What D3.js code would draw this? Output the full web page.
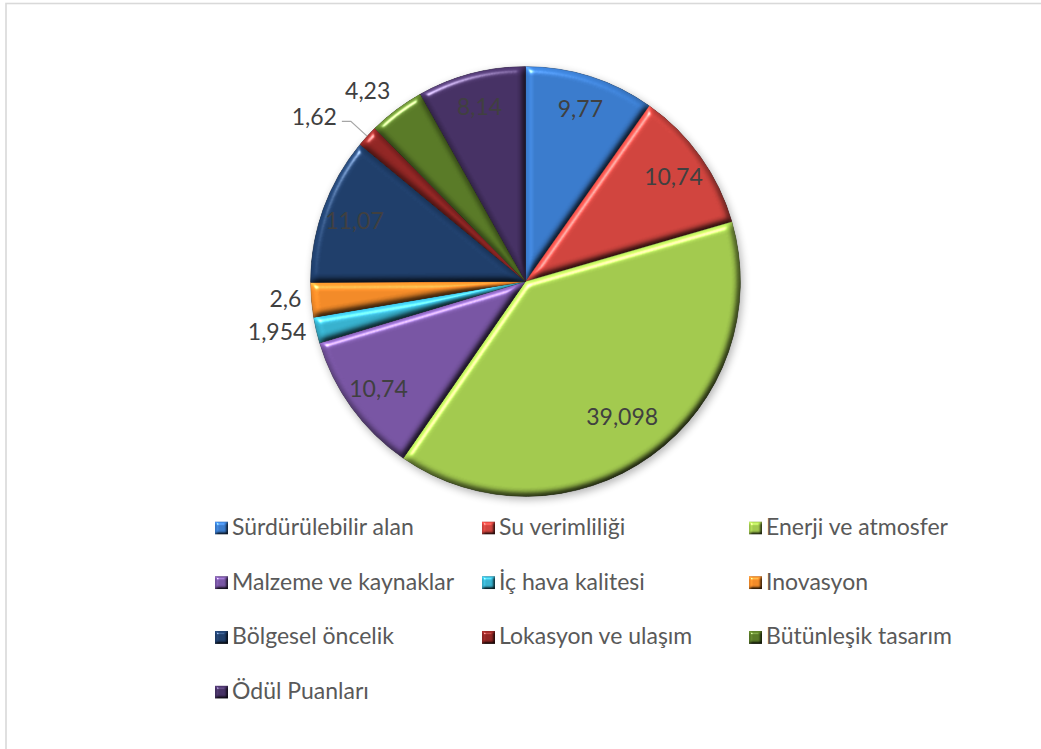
<!DOCTYPE html>
<html>
<head>
<meta charset="utf-8">
<script src="https://cdn.jsdelivr.net/npm/d3@7"></script>
<style>
  html, body { margin: 0; padding: 0; background: #fff; }
  svg { display: block; }
</style>
</head>
<body>
<svg id="chart" width="1041" height="749"></svg>
<script>
// LEED credit categories and their point shares
const categories = [
  "Sürdürülebilir alan", "Su verimliliği", "Enerji ve atmosfer",
  "Malzeme ve kaynaklar", "İç hava kalitesi", "Inovasyon",
  "Bölgesel öncelik", "Lokasyon ve ulaşım", "Bütünleşik tasarım",
  "Ödül Puanları"
];
const values = [9.77, 10.74, 39.098, 10.74, 1.954, 2.6, 11.07, 1.62, 4.23, 8.14];
const valueLabels = ["9,77", "10,74", "39,098", "10,74", "1,954", "2,6", "11,07", "1,62", "4,23", "8,14"];

// Slice fills
const colors = [
  "#3a7bcc", "#d0443e", "#a2c94e", "#7855a3", "#37b1ce",
  "#f28a28", "#1f3e6a", "#912624", "#597a27", "#463164"
];
// Where each value label goes: inside the slice, outside it, or outside with a leader line
const labelModes = ["in", "in", "in", "in", "out", "out", "in", "leader", "out", "in"];

const svg = d3.select("#chart");
const W = 1041, H = 749;
const cx = 525.5, cy = 281.5, R = 215;

// Chart area frame
svg.append("rect")
  .attr("x", 6).attr("y", 3.5)
  .attr("width", W + 40).attr("height", H + 40)
  .attr("fill", "#fff")
  .attr("stroke", "#d9d9d9").attr("stroke-width", 1.6);

const defs = svg.append("defs");

// Bevel: lighting computed from a blurred alpha edge
function bevelFilter(id, blur, scale) {
  const f = defs.append("filter").attr("id", id)
    .attr("x", "-5%").attr("y", "-5%").attr("width", "110%").attr("height", "110%")
    .attr("color-interpolation-filters", "sRGB");
  f.append("feGaussianBlur").attr("in", "SourceAlpha").attr("stdDeviation", blur).attr("result", "blur");
  f.append("feDiffuseLighting").attr("in", "blur").attr("surfaceScale", scale)
    .attr("diffuseConstant", 1).attr("lighting-color", "#fff").attr("result", "diff")
    .append("feDistantLight").attr("azimuth", 235).attr("elevation", 55);
  f.append("feComposite").attr("in", "SourceGraphic").attr("in2", "diff")
    .attr("operator", "arithmetic").attr("k1", 1.22).attr("k2", 0).attr("k3", 0).attr("k4", 0)
    .attr("result", "lit");
  f.append("feSpecularLighting").attr("in", "blur").attr("surfaceScale", scale)
    .attr("specularConstant", 0.6).attr("specularExponent", 50)
    .attr("lighting-color", "#fff").attr("result", "spec")
    .append("feDistantLight").attr("azimuth", 235).attr("elevation", 40);
  f.append("feComposite").attr("in", "spec").attr("in2", "SourceAlpha")
    .attr("operator", "in").attr("result", "specIn");
  f.append("feComposite").attr("in", "lit").attr("in2", "specIn")
    .attr("operator", "arithmetic").attr("k1", 0).attr("k2", 1).attr("k3", 1).attr("k4", 0)
    .attr("result", "sum");
  f.append("feComposite").attr("in", "sum").attr("in2", "SourceAlpha").attr("operator", "in");
}
bevelFilter("bevel", 3.6, 4.5);
bevelFilter("bevelSmall", 1.6, 2.5);

const shadow = defs.append("filter").attr("id", "shadow")
  .attr("x", "-20%").attr("y", "-20%").attr("width", "140%").attr("height", "140%");
shadow.append("feGaussianBlur").attr("stdDeviation", 4);

const pie = d3.pie().sort(null).value(d => d)
  .startAngle(0).endAngle(2 * Math.PI);
const arcs = pie(values);
const arc = d3.arc().innerRadius(0).outerRadius(R);

const g = svg.append("g").attr("transform", `translate(${cx},${cy})`);

// Soft outer shadow under the pie
g.append("circle")
  .attr("cx", 2).attr("cy", 3).attr("r", R)
  .attr("fill", "#000").attr("opacity", 0.3)
  .attr("filter", "url(#shadow)");

g.selectAll("path.slice")
  .data(arcs)
  .join("path")
  .attr("class", "slice")
  .attr("d", arc)
  .attr("fill", (d, i) => colors[i])
  .attr("stroke", (d, i) => d3.color(colors[i]).darker(0.8))
  .attr("stroke-width", 0.6)
  .attr("filter", "url(#bevel)");

// Value labels
const labelFont = "Lato, 'Open Sans', sans-serif";
const labelSize = 23;
const labelColor = "#404040";
const unit = a => [Math.sin(a), -Math.cos(a)];

arcs.forEach((d, i) => {
  const mid = (d.startAngle + d.endAngle) / 2;
  const [ux, uy] = unit(mid);
  const mode = labelModes[i];
  const t = g.append("text")
    .attr("font-family", labelFont)
    .attr("font-size", labelSize)
    .attr("fill", labelColor)
    .attr("dominant-baseline", "central")
    .text(valueLabels[i]);
  if (mode === "in") {
    const share = d.value / d3.sum(values);
    const r = share > 0.3 ? R * 0.77 : R * 0.845;
    t.attr("x", r * ux).attr("y", r * uy).attr("text-anchor", "middle");
  } else if (mode === "out") {
    const px = (R + 10) * ux, py = (R + 10) * uy;
    t.attr("x", px).attr("y", py + uy * 10 - 4)
      .attr("text-anchor", ux < 0 ? "end" : "start");
  } else {
    const ex = R * ux, ey = R * uy;
    const bx = (R + 22) * ux, by = (R + 22) * uy;
    const hx = bx + (ux < 0 ? -9 : 9);
    g.append("path")
      .attr("d", `M${ex},${ey}L${bx},${by}L${hx},${by}`)
      .attr("fill", "none").attr("stroke", "#a6a6a6").attr("stroke-width", 1.2);
    t.attr("x", hx + (ux < 0 ? -5 : 5)).attr("y", by - 5)
      .attr("text-anchor", ux < 0 ? "end" : "start");
  }
});

// Legend: three columns
const legendX = [215, 482, 749];
const legendY0 = 535, legendDY = 54.7;
const legend = svg.append("g");
categories.forEach((c, i) => {
  const col = i % 3, row = Math.floor(i / 3);
  const x = legendX[col], y = legendY0 + row * legendDY;
  legend.append("rect")
    .attr("x", x).attr("y", y - 13.5).attr("width", 13).attr("height", 13)
    .attr("fill", colors[i])
    .attr("filter", "url(#bevelSmall)");
  legend.append("text")
    .attr("x", x + 17).attr("y", y)
    .attr("font-family", labelFont)
    .attr("font-size", labelSize)
    .attr("fill", "#595959")
    .text(c);
});
</script>
</body>
</html>
